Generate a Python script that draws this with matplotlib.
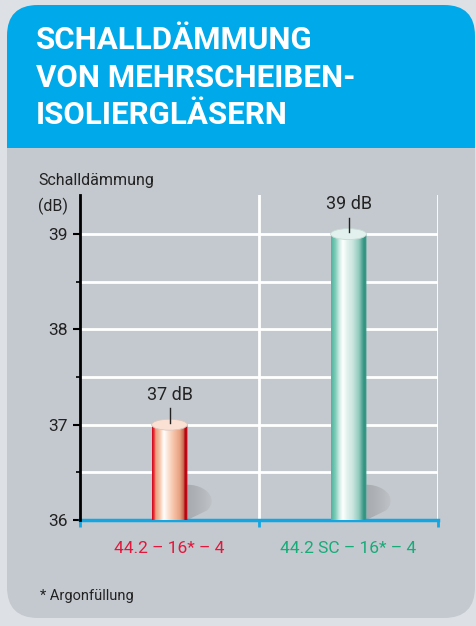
import matplotlib
matplotlib.use("Agg")
import matplotlib.pyplot as plt
import numpy as np
from matplotlib.patches import FancyBboxPatch, Rectangle, Ellipse, PathPatch
from matplotlib.path import Path
from matplotlib.colors import to_rgb

categories = ["44.2 – 16* – 4", "44.2 SC – 16* – 4"]
values = [37, 39]
value_labels = ["37 dB", "39 dB"]
label_colors = ["#e2173b", "#17ab78"]
yticks = [36, 37, 38, 39]

# colour stops across the cylinder (left -> right)
stops = [
    [(0.0, "#d4001a"), (0.06, "#e83a3a"), (0.1, "#eaa07e"), (0.22, "#f6c7ad"),
     (0.33, "#ffffff"), (0.45, "#fbe2d4"), (0.6, "#f7c3a8"), (0.78, "#e6a080"),
     (0.88, "#c56a50"), (0.92, "#b8000f"), (1.0, "#c8101e")],
    [(0.0, "#4fb39c"), (0.12, "#7ccbb8"), (0.22, "#c9e9e1"), (0.33, "#ffffff"),
     (0.45, "#e2f2ee"), (0.6, "#cbe6df"), (0.78, "#90cbbd"), (0.86, "#5aa898"),
     (0.92, "#2f9480"), (1.0, "#3a9c88")],
]
top_colors = ["#fbe1d3", "#e2f1ed"]

plt.rcParams['font.family'] = ['Roboto', 'DejaVu Sans']

W, H = 477, 626
fig = plt.figure(figsize=(W / 100, H / 100), dpi=100)
fig.patch.set_facecolor("#dde0e4")


def fx(px):
    return px / W


def fy(py):
    return 1 - py / H


def gradient(stop_list, n=200):
    pos = np.linspace(0, 1, n)
    sp = [s[0] for s in stop_list]
    cols = np.array([to_rgb(s[1]) for s in stop_list])
    return np.stack([np.interp(pos, sp, cols[:, k]) for k in range(3)], axis=-1)[None, :, :]


# card
card = FancyBboxPatch((fx(7), fy(618)), fx(475) - fx(7), fy(5) - fy(618),
                      boxstyle="round,pad=0,rounding_size=0.065",
                      transform=fig.transFigure, facecolor="#c4c9cf", edgecolor="none",
                      mutation_aspect=W / H, zorder=-10)
fig.patches.append(card)
head = FancyBboxPatch((fx(7), fy(148)), fx(475) - fx(7), fy(5) - fy(148),
                      boxstyle="round,pad=0,rounding_size=0.065",
                      transform=fig.transFigure, facecolor="#00aaea", edgecolor="none",
                      mutation_aspect=W / H, zorder=-9)
fig.patches.append(head)
fig.patches.append(Rectangle((fx(7), fy(148)), fx(475) - fx(7), fy(100) - fy(148),
                             transform=fig.transFigure, facecolor="#00aaea", edgecolor="none",
                             zorder=-9))

for line, base in zip(["SCHALLDÄMMUNG", "VON MEHRSCHEIBEN-", "ISOLIERGLÄSERN"], [49, 87, 124]):
    fig.text(fx(36), fy(base), line, color="white", fontsize=22.5, fontweight="bold",
             va="baseline", ha="left")

ax = fig.add_axes([fx(80), fy(520), fx(438) - fx(80), fy(195) - fy(520)])
ax.set_facecolor("none")
ymax = 36 + (520 - 195) / 95.3
ax.set_xlim(-0.5, 1.5)
ax.set_ylim(36, ymax)

# grid
for yv in np.arange(36.5, 39.01, 0.5):
    ax.axhline(yv, color="white", linewidth=2, zorder=1)
for xv in [0.5, 1.5]:
    ax.axvline(xv, color="white", linewidth=2, zorder=1)

w = 0.2
eh = 0.115
shadow_grad = gradient([(0.0, "#a6aaae"), (0.5, "#b2b6ba"), (1.0, "#c0c4c8")])
for i, (v, st) in enumerate(zip(values, stops)):
    xl, xr = i - w / 2, i + w / 2

    # shadow: quarter ellipse to the right of the base, closed by a diagonal
    a = np.linspace(np.pi / 2, -np.pi / 5, 40)
    sx = xr + 0.135 * np.cos(a)
    sy = 36.2 + 0.17 * np.sin(a)
    sverts = list(zip(sx, sy)) + [(xr, 36.0), (xr, 36.37)]
    sclip = PathPatch(Path(sverts), transform=ax.transData, facecolor="none", edgecolor="none")
    ax.add_patch(sclip)
    sim = ax.imshow(shadow_grad, extent=[xr, xr + 0.14, 36.0, 36.38], aspect="auto",
                    zorder=2, interpolation="bilinear")
    sim.set_clip_path(sclip)
    sim.set_clip_box(None)

    # body gradient
    t = np.linspace(np.pi, 2 * np.pi, 40)
    bx = i + (w / 2) * np.cos(t)
    by = 36 + (eh / 2) * np.sin(t)
    verts = [(xl, v)] + list(zip(bx, by)) + [(xr, v), (xl, v)]
    clip = PathPatch(Path(verts), transform=ax.transData, facecolor="none", edgecolor="none")
    ax.add_patch(clip)
    im = ax.imshow(gradient(st), extent=[xl, xr, 36 - eh, v], aspect="auto", zorder=3,
                   interpolation="bilinear")
    im.set_clip_path(clip)
    im.set_clip_box(None)

    top = Ellipse((i, v), w, eh, facecolor=top_colors[i],
                  edgecolor="#d8c8c0" if i == 0 else "#c8dcd6", linewidth=0.6, zorder=4)
    ax.add_patch(top)
    ax.plot([i, i], [v + 0.02, v + 0.17], color="#222222", linewidth=1.0, zorder=5)
    ax.text(i, v + 0.22, value_labels[i], ha="center", va="bottom", fontsize=13,
            color="#222222", zorder=5)
    ax.text(i, -0.088, categories[i], transform=ax.get_xaxis_transform(), ha="center",
            va="center", fontsize=12.5, color=label_colors[i])

ax.set_xlim(-0.5, 1.5)
ax.set_ylim(36, ymax)

for s in ["top", "right"]:
    ax.spines[s].set_visible(False)
ax.spines["left"].set_color("black")
ax.spines["left"].set_linewidth(2)
ax.spines["left"].set_zorder(6)
ax.spines["bottom"].set_color("#12a6e2")
ax.spines["bottom"].set_linewidth(2.5)
ax.spines["bottom"].set_zorder(2.5)

ax.set_xticks([-0.5, 0.5, 1.5])
ax.set_xticklabels([])
ax.tick_params(axis="x", colors="#12a6e2", width=2, length=5, direction="out")
ax.set_yticks(yticks)
ax.set_yticklabels([str(t) for t in yticks])
ax.set_yticks([36.5, 37.5, 38.5], minor=True)
ax.tick_params(axis="y", which="major", width=1.5, length=5, pad=4, labelsize=12.5,
               labelcolor="#222222")
ax.tick_params(axis="y", which="minor", width=1.2, length=3)

fig.text(fx(38), fy(180), "Schalldämmung", fontsize=11.5, color="#222222", va="center", ha="left")
fig.text(fx(38), fy(206), "(dB)", fontsize=11.5, color="#222222", va="center", ha="left")
fig.text(fx(40), fy(596), "* Argonfüllung", fontsize=10.5, color="#222222", va="center", ha="left")

fig.savefig("out.png", dpi=100, facecolor=fig.get_facecolor())
